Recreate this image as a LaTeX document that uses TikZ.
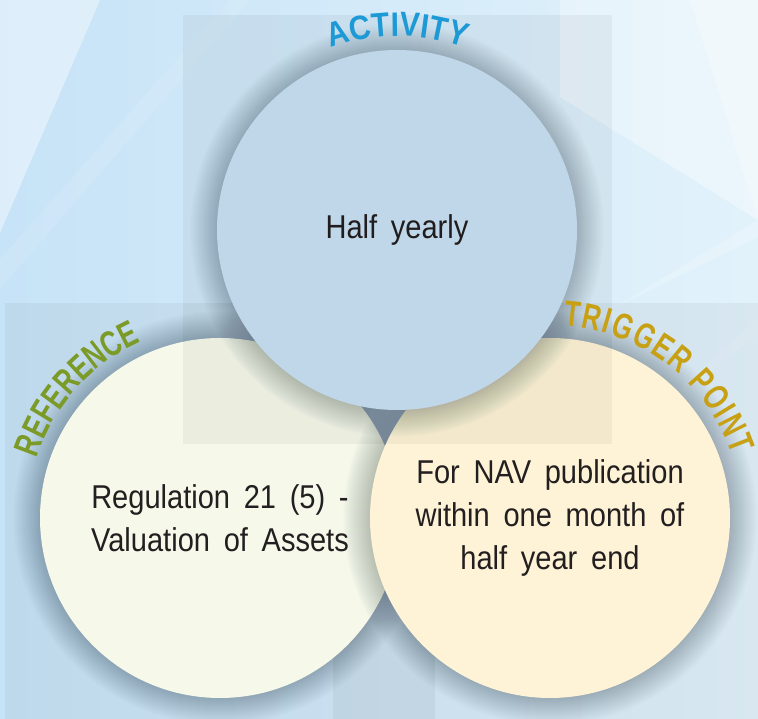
\documentclass[tikz,border=0pt]{standalone}
\usepackage{fontspec}
\setmainfont{Liberation Sans}[FakeStretch=0.88, WordSpace=1.7]
\newfontfamily\tagfont{Liberation Sans Bold}[FakeStretch=0.72]
\newfontfamily\actfont{Liberation Sans Bold}[FakeStretch=0.88]
\newcommand\tagsize{\fontsize{36}{36}\selectfont}
\newcommand\actsize{\fontsize{34}{34}\selectfont}
\usetikzlibrary{decorations.text, positioning}

\definecolor{bgblue}{HTML}{C7E3F7}
\definecolor{bglight}{HTML}{E2F2FB}
\definecolor{actfill}{HTML}{C9E1F4}
\definecolor{reffill}{HTML}{F6F9EA}
\definecolor{trigfill}{HTML}{FEF3D6}
\definecolor{bodyink}{HTML}{231F20}
\definecolor{haloink}{HTML}{3A4A5C}
\definecolor{actink}{HTML}{1D9AD6}
\definecolor{refink}{HTML}{7B9A27}
\definecolor{trigink}{HTML}{C8A013}

% soft shadow ring round a circle centre
\newcommand\halo[1]{%
  \foreach \k in {1,...,28} {\fill[haloink, opacity=0.011] (#1) circle[radius=179+\k];}}

\tikzset{
  bubble/.style={circle, minimum size=360pt, inner sep=0pt, align=center,
    text=bodyink, font=\fontsize{33}{43}\selectfont},
  tagarc/.style={decorate,
    decoration={text along path, text align=fit to path, text={#1}}},
  veil/.style={fill=#1, opacity=0.045},
}

\begin{document}
\begin{tikzpicture}[x=1pt, y=1pt]
  \useasboundingbox (0,0) rectangle (758,719);

  % === BACKGROUND ===
  \shade[left color=bgblue, right color=bglight] (0,0) rectangle (758,719);
  % light streaks
  \fill[white, opacity=0.4] (0,719) -- (100,719) -- (0,486) -- cycle;
  \fill[white, opacity=0.1] (0,460) -- (230,719) -- (250,719) -- (0,430) -- cycle;
  \fill[white, opacity=0.35] (560,719) -- (758,719) -- (758,499) -- (560,622) -- cycle;
  \fill[white, opacity=0.3] (690,719) -- (758,719) -- (758,499) -- cycle;
  \fill[white, opacity=0.2] (612,410) -- (758,499) -- (758,482) -- cycle;
  \fill[white, opacity=0.12] (600,260) -- (758,400) -- (758,385) -- cycle;
  % panel behind lower circles
  \fill[veil=black] (5,0) rectangle (758,416);
  \fill[veil=black] (333,0) rectangle (435,275);

  % === CIRCLES ===
  \coordinate (refc) at (220,201);
  \coordinate (trigc) at (550,201);
  \coordinate (actc) at (397,489);

  \halo{refc}
  \node[bubble, fill=reffill] (ref) at (refc)
    {Regulation 21 (5) -\\Valuation of Assets};
  \halo{trigc}
  \node[bubble, fill=trigfill] (trig) at (trigc)
    {For NAV publication\\within one month of\\half year end};
  \halo{actc}
  \node[bubble, fill=actfill] (act) at (actc) {Half yearly};

  % square veil over everything
  \fill[veil=black] (183,275) rectangle (612,704);

  % === CURVED LABELS ===
  \begin{scope}
    \actfont\actsize
    \path[tagarc={|\color{actink}|ACTIVITY}]
      ([shift={(110:194)}]act.center) arc[start angle=110, end angle=70, radius=194];
  \end{scope}
  \begin{scope}
    \tagfont\tagsize
    \path[tagarc={|\color{refink}|REFERENCE}]
      ([shift={(162:193)}]ref.center) arc[start angle=162, end angle=114, radius=193];
    \path[tagarc={|\color{trigink}|TRIGGER POINT}]
      ([shift={(86:193)}]trig.center) arc[start angle=86, end angle=19, radius=193];
  \end{scope}
\end{tikzpicture}
\end{document}
